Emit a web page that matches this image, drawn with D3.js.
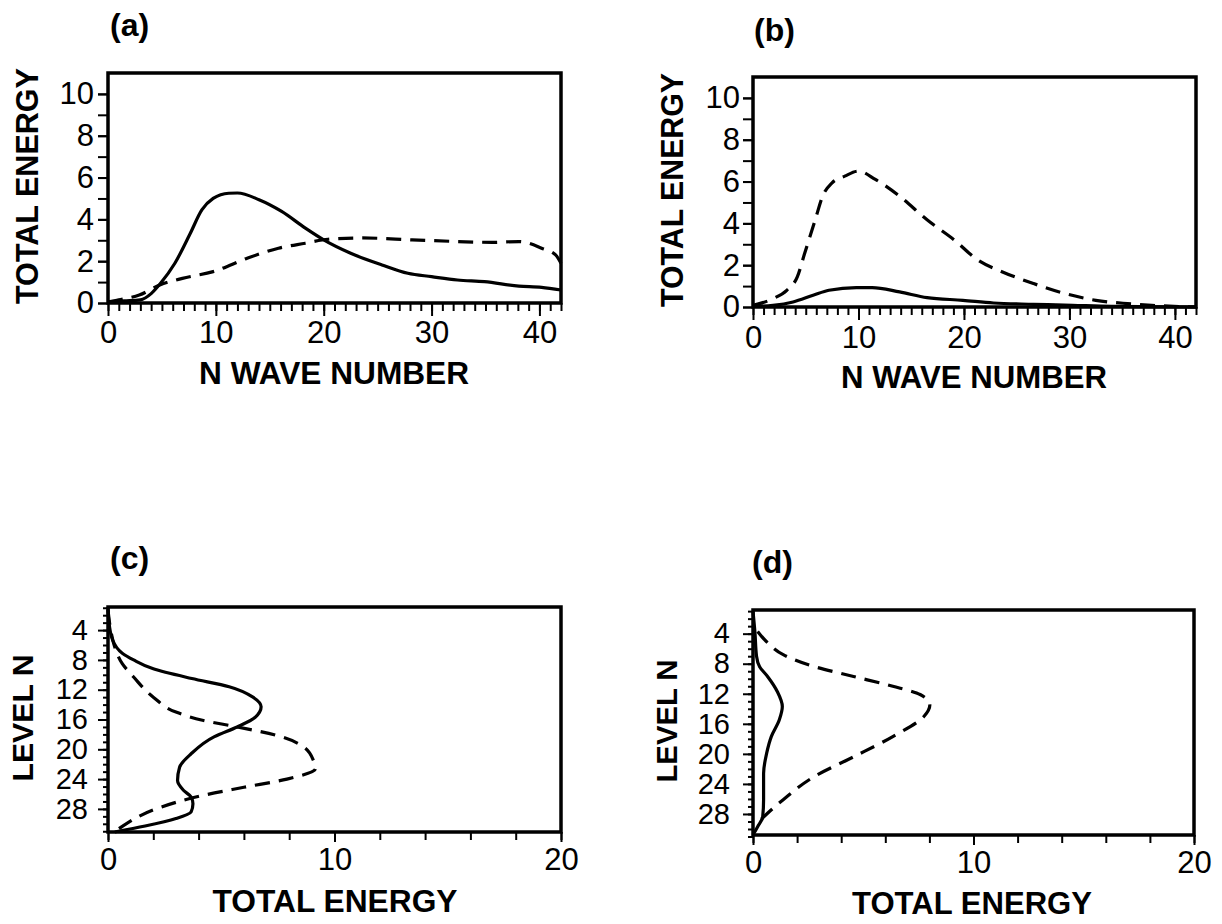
<!DOCTYPE html>
<html>
<head>
<meta charset="utf-8">
<script src="https://cdn.jsdelivr.net/npm/d3@7"></script>
<style>
  body { margin: 0; background: #fff; }
  svg text { font-family: "Liberation Sans", Arial, Helvetica, sans-serif; fill: #000; }
  .tick line { stroke: #000; stroke-width: 2; }
  .ptitle, .atitle { font-weight: bold; }
</style>
</head>
<body>
<svg id="chart" width="1222" height="924"></svg>
<script>
// panel (a)/(b): [wave number, total energy]
var aSolid = [[0,0.05],[1.5,0.1],[3,0.15],[4,0.45],[4.8,0.9],[6.2,1.9],[7.6,3.3],[8.7,4.45],[9.75,5.0],[11.2,5.25],[12,5.26],[14,4.94],[16.1,4.38],[18.3,3.58],[20,3.02],[22.5,2.38],[25.4,1.82],[27.8,1.42],[30,1.26],[32.4,1.1],[34.9,1.02],[38.1,0.81],[40.2,0.75],[42,0.62]];
var aDash = [[0,0.05],[1,0.15],[2.9,0.38],[4.8,0.86],[6.9,1.18],[9.75,1.5],[12.9,2.14],[15.8,2.62],[18.3,2.86],[20.4,3.05],[23.6,3.11],[28.2,3.02],[32.4,2.94],[35.6,2.9],[38.1,2.94],[40.2,2.62],[41.5,2.3],[42,1.9]];
var bSolid = [[0,0.03],[1.9,0.08],[3.8,0.24],[5.7,0.56],[7.2,0.8],[9.8,0.93],[11.3,0.93],[13.9,0.72],[16.5,0.45],[19.9,0.32],[22.8,0.19],[26.6,0.13],[30.3,0.08],[34,0.03],[42,0]];
var bDash = [[0,0.08],[1.9,0.4],[3.2,0.8],[4.2,1.44],[4.9,2.57],[5.9,4.17],[6.6,5.3],[7.5,5.94],[8.7,6.26],[10,6.5],[11.6,6.1],[13.9,5.3],[16.5,4.17],[19.1,3.2],[21.3,2.25],[23.6,1.69],[26.6,1.12],[29.6,0.64],[32.5,0.32],[35.5,0.16],[37.8,0.08],[42,0]];

// panel (c)/(d): [level, total energy]
var cSolid = [[0.9,0],[2.6,0.03],[5.3,0.2],[7.1,0.63],[8,1.13],[9.2,2.0],[10.5,3.7],[11.6,5.35],[13,6.4],[14.3,6.76],[15.7,6.5],[17,5.7],[18.3,4.7],[20.6,3.67],[22.4,3.16],[24.2,3.07],[25.5,3.33],[26.4,3.67],[27.3,3.75],[28.4,3.67],[29.3,3.0],[30.3,1.64],[31.1,0.3]];
var cDash = [[1.3,0],[4,0.12],[6.2,0.29],[8.5,0.63],[10.3,1.13],[13,2.0],[15,3.0],[16.1,4.17],[17,5.7],[18.1,7.4],[19.7,8.65],[21.5,9.07],[22.6,9.16],[24,7.9],[25.1,6.0],[26.2,4.17],[27.8,2.3],[30,0.8],[31.1,0.29]];
var dSolid = [[1.0,0],[3.9,0.09],[7,0.16],[8.4,0.3],[9.7,0.66],[11.7,1.1],[13.7,1.33],[15.5,1.19],[17.7,0.83],[19.9,0.62],[22.6,0.48],[26.1,0.48],[28.4,0.44],[29.7,0.21],[30.8,0]];
var dDash = [[3.7,0.21],[5.2,0.66],[6.8,1.37],[8.4,2.79],[9.7,4.56],[11,6.34],[12.1,7.58],[13.5,8.02],[15,7.76],[17.7,6.34],[20.4,4.56],[23,2.79],[26.1,1.37],[27.9,0.66],[29.2,0.21]];

// ticks
var waveTicks = d3.range(0, 43);
var waveLabels = [0, 10, 20, 30, 40];
var energyTicks = d3.range(0, 11);
var energyLabels = [0, 2, 4, 6, 8, 10];
var levelTicks = d3.range(1, 32);
var levelLabels = [4, 8, 12, 16, 20, 24, 28];
var energyTicks2 = d3.range(0, 21, 2);
var energyLabels2 = [0, 10, 20];

var svg = d3.select('#chart');

var panels = [
  { name: '(a)', tx: 110, ty: 36, kind: 'wave',
    x: d3.scaleLinear().domain([0, 42]).range([108, 561]),
    y: d3.scaleLinear().domain([0, 11]).range([303, 73]),
    solid: aSolid, dash: aDash,
    xt: { text: 'N WAVE NUMBER', x: 334, y: 384, len: 270 },
    yt: { text: 'TOTAL ENERGY', x: 38, y: 186, len: 236 }, ygap: 4, xlab: 40 },
  { name: '(b)', tx: 754, ty: 41, kind: 'wave',
    x: d3.scaleLinear().domain([0, 42]).range([753, 1196]),
    y: d3.scaleLinear().domain([0, 11]).range([307, 77]),
    solid: bSolid, dash: bDash,
    xt: { text: 'N WAVE NUMBER', x: 974, y: 388, len: 266 },
    yt: { text: 'TOTAL ENERGY', x: 683, y: 190, len: 234 }, ygap: 3, xlab: 41 },
  { name: '(c)', tx: 110, ty: 569, kind: 'level',
    x: d3.scaleLinear().domain([0, 20]).range([108, 561]),
    y: d3.scaleLinear().domain([0.9, 31.1]).range([607, 832]),
    solid: cSolid, dash: cDash,
    xt: { text: 'TOTAL ENERGY', x: 335, y: 912, len: 245 },
    yt: { text: 'LEVEL N', x: 33, y: 718, len: 127 }, ygap: 10, xlab: 38 },
  { name: '(d)', tx: 752, ty: 573, kind: 'level',
    x: d3.scaleLinear().domain([0, 20]).range([753, 1194]),
    y: d3.scaleLinear().domain([0.85, 30.8]).range([610, 835]),
    solid: dSolid, dash: dDash,
    xt: { text: 'TOTAL ENERGY', x: 972, y: 914, len: 240 },
    yt: { text: 'LEVEL N', x: 677, y: 721, len: 123 }, ygap: 13, xlab: 38 }
];

function cleanAxis(g) {
  g.select('.domain').remove();
  g.selectAll('.tick text').style('font-size', '31px');
}

panels.forEach(function(p) {
  var x = p.x, y = p.y;
  var x0 = x.range()[0], x1 = x.range()[1];
  var yb = d3.max(y.range()), yt = d3.min(y.range());
  var g = svg.append('g');

  var xMinor = p.kind == 'wave' ? waveTicks : energyTicks2;
  var xMajor = p.kind == 'wave' ? waveLabels : energyLabels2;
  var yMinor = p.kind == 'wave' ? energyTicks : levelTicks;
  var yMajor = p.kind == 'wave' ? energyLabels : levelLabels;
  var majLen = p.kind == 'wave' ? 13 : 10;

  // x ticks
  g.append('g').attr('transform', 'translate(0,' + yb + ')')
    .call(d3.axisBottom(x).tickValues(xMinor).tickSize(8).tickFormat(''))
    .call(cleanAxis);
  g.append('g').attr('transform', 'translate(0,' + yb + ')')
    .call(d3.axisBottom(x).tickValues(xMajor).tickSize(majLen).tickPadding(p.xlab - majLen - 22))
    .call(cleanAxis);

  // y ticks
  var yMinLen = p.kind == 'wave' ? 10 : 5;
  var yMajLen = 10;
  g.append('g').attr('transform', 'translate(' + x0 + ',0)')
    .call(d3.axisLeft(y).tickValues(yMinor).tickSize(yMinLen).tickFormat(''))
    .call(cleanAxis);
  g.append('g').attr('transform', 'translate(' + x0 + ',0)')
    .call(d3.axisLeft(y).tickValues(yMajor).tickSize(yMajLen).tickPadding(p.ygap))
    .call(cleanAxis)
    .selectAll('.tick text').style('font-size', p.kind == 'wave' ? '31px' : '29px');

  // curves
  var line;
  if (p.kind == 'wave') {
    line = d3.line().x(function(d) { return x(d[0]); }).y(function(d) { return y(d[1]); })
      .curve(d3.curveMonotoneX);
  } else {
    line = d3.line().x(function(d) { return x(d[1]); }).y(function(d) { return y(d[0]); })
      .curve(d3.curveMonotoneY);
  }
  g.append('path').datum(p.dash).attr('d', line)
    .attr('fill', 'none').attr('stroke', '#000').attr('stroke-width', 3.2)
    .attr('stroke-dasharray', '15,9');
  g.append('path').datum(p.solid).attr('d', line)
    .attr('fill', 'none').attr('stroke', '#000').attr('stroke-width', 3.2);

  // frame
  g.append('rect').attr('x', x0).attr('y', yt)
    .attr('width', x1 - x0).attr('height', yb - yt)
    .attr('fill', 'none').attr('stroke', '#000').attr('stroke-width', 3.5);

  // titles
  g.append('text').attr('class', 'ptitle').attr('x', p.tx).attr('y', p.ty)
    .style('font-size', '32px').text(p.name);
  g.append('text').attr('class', 'atitle')
    .attr('x', p.xt.x).attr('y', p.xt.y).attr('text-anchor', 'middle')
    .attr('textLength', p.xt.len).attr('lengthAdjust', 'spacingAndGlyphs')
    .style('font-size', '31px').text(p.xt.text);
  g.append('text').attr('class', 'atitle')
    .attr('transform', 'translate(' + p.yt.x + ',' + p.yt.y + ') rotate(-90)')
    .attr('text-anchor', 'middle')
    .attr('textLength', p.yt.len).attr('lengthAdjust', 'spacingAndGlyphs')
    .style('font-size', p.kind == 'wave' ? '31px' : '29px').text(p.yt.text);
});
</script>
</body>
</html>
